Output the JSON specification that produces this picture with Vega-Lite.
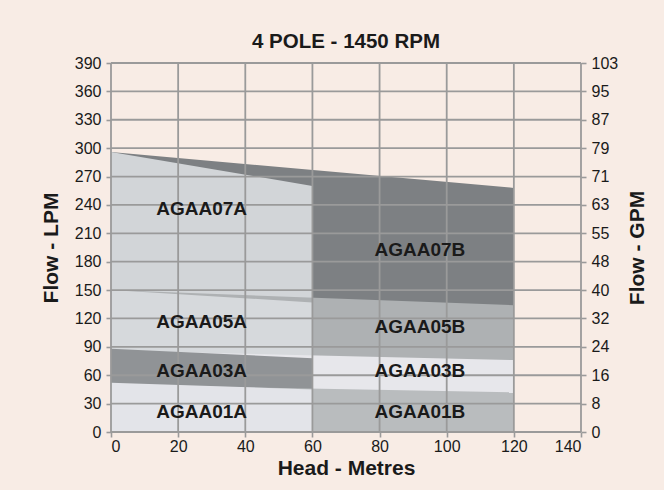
{
  "$schema": "https://vega.github.io/schema/vega-lite/v6.json",
  "autosize": "none",
  "width": 470,
  "height": 369,
  "padding": {"left": 111, "top": 63, "right": 83, "bottom": 58},
  "background": "#f8ece5",
  "title": {"text": "4 POLE - 1450 RPM", "font": "Liberation Sans", "fontSize": 20.5, "fontWeight": "bold", "color": "#1a1a1a", "offset": 3, "anchor": "middle"},
  "datasets": {
    "bands": [
      {"m": "AGAA07B", "head": 0, "top": 296},
      {"m": "AGAA07B", "head": 120, "top": 258},
      {"m": "AGAA07A", "head": 0, "top": 296},
      {"m": "AGAA07A", "head": 60, "top": 260},
      {"m": "AGAA05B", "head": 0, "top": 150},
      {"m": "AGAA05B", "head": 120, "top": 134},
      {"m": "AGAA05A", "head": 0, "top": 150},
      {"m": "AGAA05A", "head": 60, "top": 137},
      {"m": "AGAA03B", "head": 0, "top": 86},
      {"m": "AGAA03B", "head": 120, "top": 76},
      {"m": "AGAA03A", "head": 0, "top": 88},
      {"m": "AGAA03A", "head": 60, "top": 78},
      {"m": "AGAA01B", "head": 0, "top": 50},
      {"m": "AGAA01B", "head": 120, "top": 42},
      {"m": "AGAA01A", "head": 0, "top": 52},
      {"m": "AGAA01A", "head": 60, "top": 45}
    ],
    "hgrid": [
      {"v": 0}, {"v": 30}, {"v": 60}, {"v": 90}, {"v": 120}, {"v": 150}, {"v": 180},
      {"v": 210}, {"v": 240}, {"v": 270}, {"v": 300}, {"v": 330}, {"v": 360}, {"v": 390}
    ],
    "vgrid": [
      {"h": 0}, {"h": 20}, {"h": 40}, {"h": 60}, {"h": 80}, {"h": 100}, {"h": 120}, {"h": 140}
    ],
    "labels": [
      {"m": "AGAA07A", "head": 27, "flow": 236},
      {"m": "AGAA05A", "head": 27, "flow": 116},
      {"m": "AGAA03A", "head": 27, "flow": 65},
      {"m": "AGAA01A", "head": 27, "flow": 21},
      {"m": "AGAA07B", "head": 92, "flow": 192},
      {"m": "AGAA05B", "head": 92, "flow": 111},
      {"m": "AGAA03B", "head": 92, "flow": 65},
      {"m": "AGAA01B", "head": 92, "flow": 21}
    ]
  },
  "config": {
    "view": {"stroke": null},
    "axis": {
      "grid": false,
      "domain": false,
      "tickColor": "#9a9a9a", "tickSize": 5, "tickWidth": 1.6,
      "labelFont": "Liberation Sans", "labelFontSize": 16, "labelColor": "#1a1a1a",
      "titleFont": "Liberation Sans", "titleFontSize": 21, "titleFontWeight": "bold", "titleColor": "#1a1a1a"
    }
  },
  "resolve": {"axis": {"y": "independent"}},
  "layer": [
    {
      "data": {"name": "bands"},
      "mark": {"type": "area", "opacity": 1},
      "encoding": {
        "x": {"field": "head", "type": "quantitative", "scale": {"domain": [0, 140], "nice": false}, "axis": {"values": [0, 20, 40, 60, 80, 100, 120, 140], "title": "Head - Metres", "titlePadding": 3, "labelPadding": 1}},
        "y": {"field": "top", "type": "quantitative", "stack": null, "scale": {"domain": [0, 390], "nice": false}, "axis": {"values": [0, 30, 60, 90, 120, 150, 180, 210, 240, 270, 300, 330, 360, 390], "title": "Flow - LPM", "titlePadding": 13, "labelPadding": 5}},
        "color": {"field": "m", "type": "nominal", "legend": null, "sort": null,
          "scale": {"domain": ["AGAA07B", "AGAA07A", "AGAA05B", "AGAA05A", "AGAA03B", "AGAA03A", "AGAA01B", "AGAA01A"],
                    "range": ["#7d8083", "#d2d5d8", "#aeb1b3", "#d6d9dc", "#e7e7eb", "#909396", "#b9bcbe", "#e3e4e9"]}}
      }
    },
    {
      "data": {"name": "hgrid"},
      "mark": {"type": "rule", "color": "#9a9a9a", "strokeWidth": 1.8},
      "encoding": {
        "y": {"field": "v", "type": "quantitative", "axis": null}
      }
    },
    {
      "data": {"name": "vgrid"},
      "mark": {"type": "rule", "color": "#9a9a9a", "strokeWidth": 1.8},
      "encoding": {
        "x": {"field": "h", "type": "quantitative", "axis": {"values": [0, 20, 40, 60, 80, 100, 120, 140], "title": "Head - Metres", "titlePadding": 3, "labelPadding": 1}}
      }
    },
    {
      "data": {"name": "labels"},
      "mark": {"type": "text", "font": "Liberation Sans", "fontWeight": "bold", "fontSize": 19, "color": "#1a1a1a", "baseline": "middle", "align": "center"},
      "encoding": {
        "x": {"field": "head", "type": "quantitative", "axis": {"values": [0, 20, 40, 60, 80, 100, 120, 140], "title": "Head - Metres", "titlePadding": 3, "labelPadding": 1}},
        "y": {"field": "flow", "type": "quantitative", "axis": {"orient": "right", "values": [0, 30, 60, 90, 120, 150, 180, 210, 240, 270, 300, 330, 360, 390], "labelExpr": "format(round(datum.value / 3.785), 'd')", "title": "Flow - GPM", "titleAngle": 270, "titlePadding": 30, "labelPadding": 5}},
        "text": {"field": "m", "type": "nominal"}
      }
    }
  ]
}
